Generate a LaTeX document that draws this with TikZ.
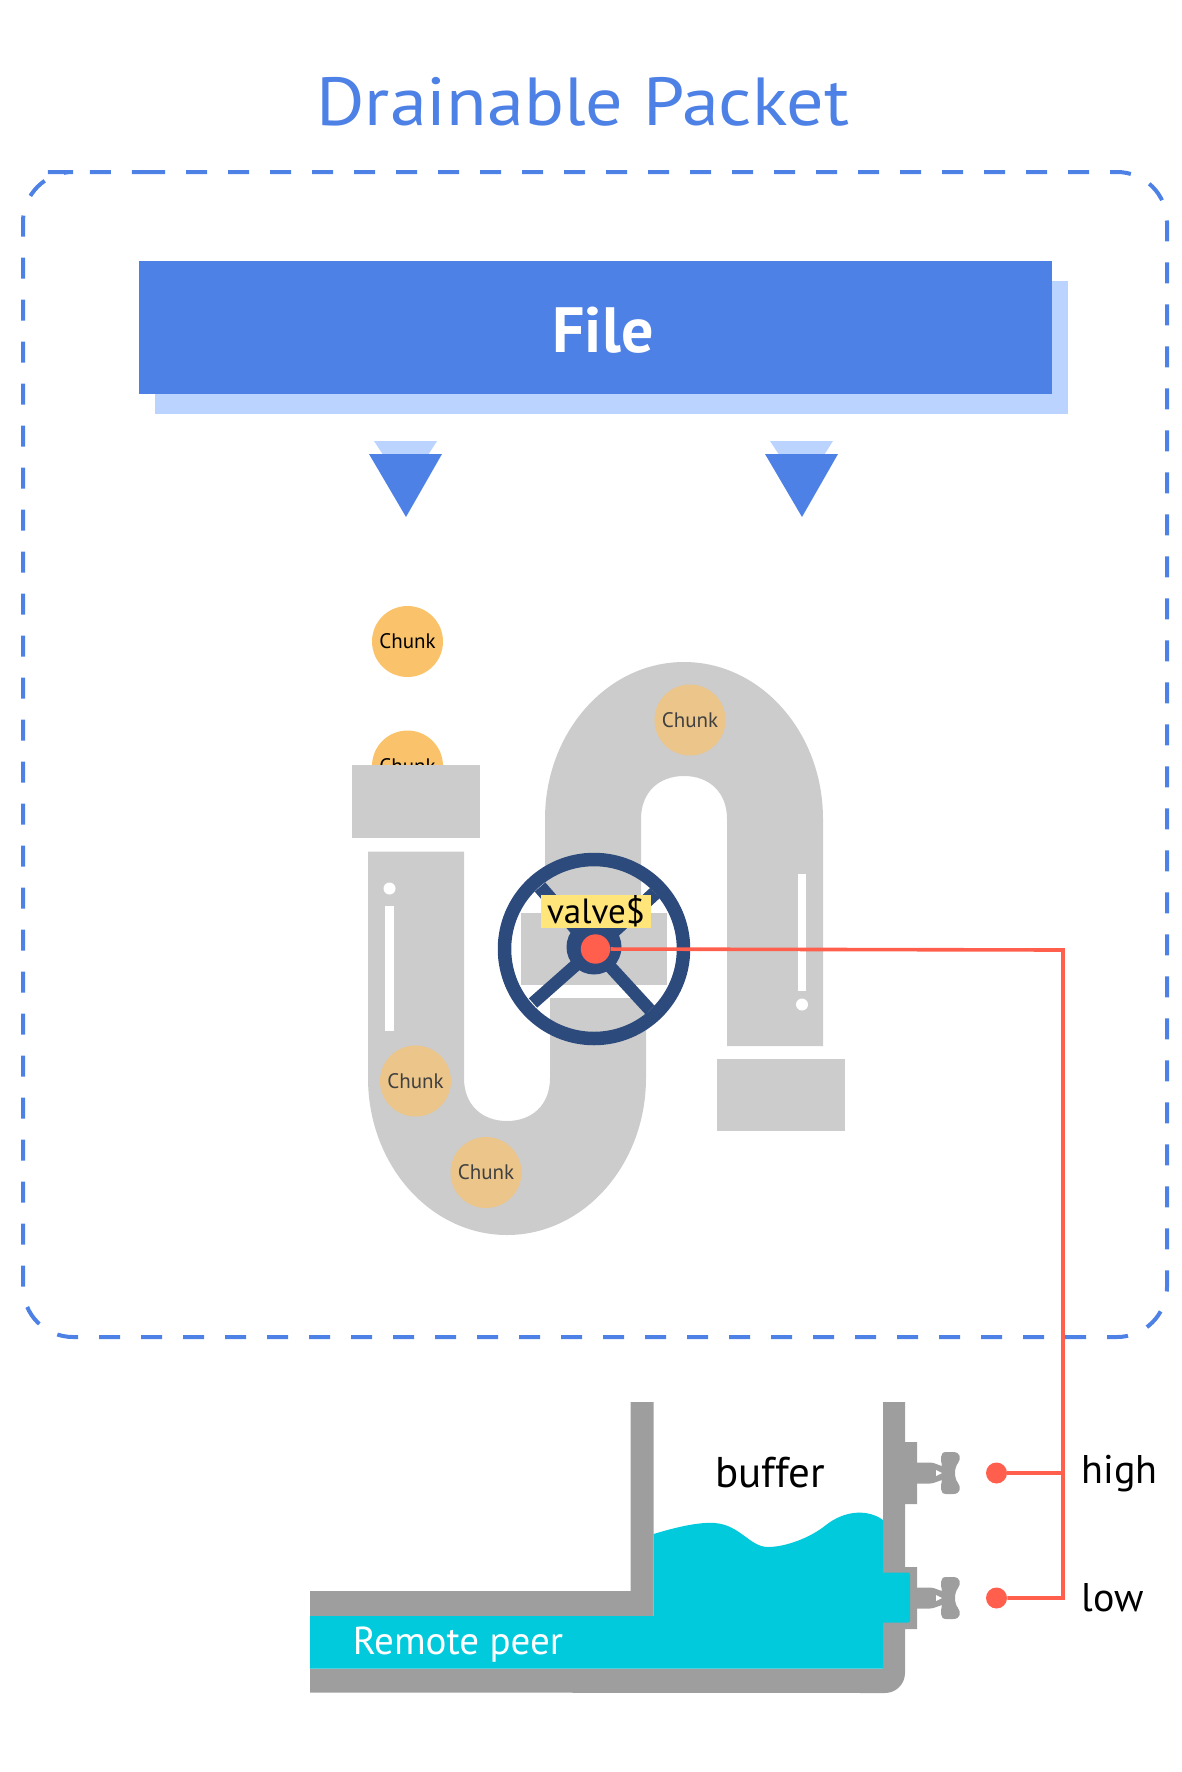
\documentclass[tikz,border=0pt]{standalone}
\usepackage{fontspec}
\setmainfont{PT Sans}
\newfontfamily\titlefont[FakeStretch=1.09]{PT Sans}
\usetikzlibrary{arrows.meta}
\definecolor{titleblue}{HTML}{4E81E5}
\definecolor{shadeblue}{HTML}{BBD4FF}
\definecolor{pipegray}{HTML}{CCCCCC}
\definecolor{wallgray}{HTML}{9E9E9E}
\definecolor{waterblue}{HTML}{00CADB}
\definecolor{wheelblue}{HTML}{2C4A7C}
\definecolor{wirered}{HTML}{FF5F4C}
\definecolor{chunkorange}{HTML}{FAC36B}
\definecolor{chunktan}{HTML}{EBC58A}
\definecolor{labelyellow}{HTML}{FFE57A}
\tikzset{
  chunk/.style={circle,fill=#1,minimum size=35.5pt,inner sep=0pt,font=\fontsize{10.5}{12}\selectfont},
  wire/.style={wirered,line width=1.8pt},
  reddot/.style={circle,fill=wirered,minimum size=#1,inner sep=0pt},
  tanklabel/.style={black,font=\fontsize{20}{24}\selectfont},
}

\begin{document}
\begin{tikzpicture}[x=0.5pt,y=-0.5pt]
\useasboundingbox (0,0) rectangle (1182,1772);
% title and frame
\node (title) [titleblue,font=\titlefont\fontsize{34}{40}\selectfont] at (583,102) {Drainable Packet};
\draw[titleblue,line width=2pt,dash pattern=on 10.5pt off 10.5pt,rounded corners=25pt] (94,172) -- (1167,172) -- (1167,1337) -- (23,1337) -- (23,172) -- cycle;
% file
\fill[shadeblue] (155,281) rectangle (1068,414);
\node (file) [fill=titleblue,minimum width=456.5pt,minimum height=66.5pt,inner sep=0pt] at (595.5,327.5) {};
\node (filetext) [white,font=\bfseries\fontsize{32}{36}\selectfont] at (603,330) {File};
% arrows
\fill[shadeblue] (374,441) -- (437,441) -- (406,490) -- cycle;
\fill[shadeblue] (770,441) -- (833,441) -- (802,490) -- cycle;
\fill[titleblue] (369,454) -- (442,454) -- (406,517) -- cycle;
\fill[titleblue] (765,454) -- (838,454) -- (802,517) -- cycle;
% falling chunks
\node (chunka) [chunk=chunkorange] at (407.5,641.5) {Chunk};
\node (chunkb) [chunk=chunkorange] at (407.5,766) {Chunk};
% pipes
\fill[pipegray] (352,765) rectangle (480,837.5);
\fill[pipegray] (717,1059) rectangle (845,1131);
\fill[pipegray] (521,912.5) rectangle (667,985);
\fill[pipegray] (368,851.5) -- (368,1078) arc[x radius=139,y radius=157,start angle=180,end angle=0] -- (646,998) -- (550,998) -- (550,1078) .. controls (550,1105) and (532,1121) .. (507,1121) .. controls (482,1121) and (464,1105) .. (464,1078) -- (464,851.5) -- cycle;
\fill[pipegray] (545,915) -- (545,819) arc[x radius=139,y radius=157,start angle=180,end angle=360] -- (823,1046) -- (727,1046) -- (727,819) .. controls (727,792) and (709,776) .. (684,776) .. controls (659,776) and (641,792) .. (641,819) -- (641,915) -- cycle;
\fill[white] (385,905.5) rectangle (394,1030.5);
\fill[white] (389.5,888.5) circle[radius=6];
\fill[white] (798,873.5) rectangle (806,990.5);
\fill[white] (802,1004.5) circle[radius=6];
% chunks inside
\node (chunkc) [chunk=chunktan,text=black!75] at (690,720) {Chunk};
\node (chunkd) [chunk=chunktan,text=black!75] at (415.5,1081) {Chunk};
\node (chunke) [chunk=chunktan,text=black!75] at (486,1172.5) {Chunk};
% wheel
\draw[wheelblue,line width=6.75pt] (594,949) circle[radius=89.5];
\fill[wheelblue] (594,947) circle[radius=27.5];
\draw[wheelblue,line width=6.25pt] (594,949) -- (533,1003);
\draw[wheelblue,line width=6.25pt] (594,949) -- (650,1010);
\draw[wheelblue,line width=7pt] (594,949) -- (540,887);
\draw[wheelblue,line width=7pt] (594,949) -- (655,893);
\node (valve) [fill=labelyellow,minimum width=55pt,minimum height=16.5pt,inner sep=0pt,font=\fontsize{17.5}{20}\selectfont] at (596,911.5) {valve\$};
% tank
\fill[wallgray] (630.5,1402) -- (653.5,1402) -- (653.5,1616) -- (310,1616) -- (310,1591) -- (630.5,1591) -- cycle;
\fill[wallgray] (310,1668.5) -- (883,1668.5) -- (883,1402) -- (905,1402) -- (905,1442) -- (917,1442) -- (917,1504) -- (905,1504) -- (905,1567) -- (917,1567) -- (917,1629) -- (905,1629) -- (905,1673) arc[radius=20,start angle=0,end angle=90] -- (310,1692.5) -- cycle;
\foreach \y in {1473,1598} {
  \fill[wallgray,shift={(0,\y)}] (917,-10.5) -- (930,-10.5) .. controls (934,-10.5) and (938,-8) .. (942,-7) .. controls (941,-12) and (939,-21) .. (946,-21) -- (953,-21) .. controls (961,-21) and (961,-14) .. (958,-10) .. controls (954,-5) and (954,5) .. (958,10) .. controls (961,14) and (961,21) .. (953,21) -- (946,21) .. controls (939,21) and (941,12) .. (942,7) .. controls (938,8) and (934,10.5) .. (930,10.5) -- (917,10.5) -- cycle;
  \fill[white,shift={(0,\y)}] (936,-3) -- (942,0) -- (936,3) -- cycle;
}
\fill[waterblue] (653.5,1534) .. controls (680,1526) and (700,1522) .. (715,1523) .. controls (740,1525) and (750,1547) .. (768,1547) .. controls (785,1547) and (810,1538) .. (826,1525) .. controls (845,1510) and (868,1509) .. (883,1520) -- (883,1668.5) -- (310,1668.5) -- (310,1616) -- (653.5,1616) -- cycle;
\fill[waterblue,rounded corners=1pt] (880,1572.5) rectangle (910,1622.5);
\node (remote) [white,font=\fontsize{19.5}{23}\selectfont] at (458,1644.5) {Remote peer};
\node (buffer) [tanklabel,font=\fontsize{21.5}{24}\selectfont] at (770,1473) {buffer};
\node (high) [tanklabel,anchor=base west,inner sep=0pt] at (1081,1483) {high};
\node (low) [tanklabel,anchor=base west,inner sep=0pt] at (1081,1611) {low};
% wires
\node (valvedot) [reddot=14.7pt] at (595.5,949) {};
\node (highdot) [reddot=10.5pt] at (996.5,1473) {};
\node (lowdot) [reddot=10.5pt] at (996.5,1598) {};
\coordinate (bustop) at (1063,950);
\coordinate (bushigh) at (1063,1473);
\coordinate (buslow) at (1063,1598);
\draw[wire] (valvedot) -- (bustop) -- (buslow) -- (lowdot);
\draw[wire] (highdot) -- (bushigh);
\end{tikzpicture}
\end{document}
